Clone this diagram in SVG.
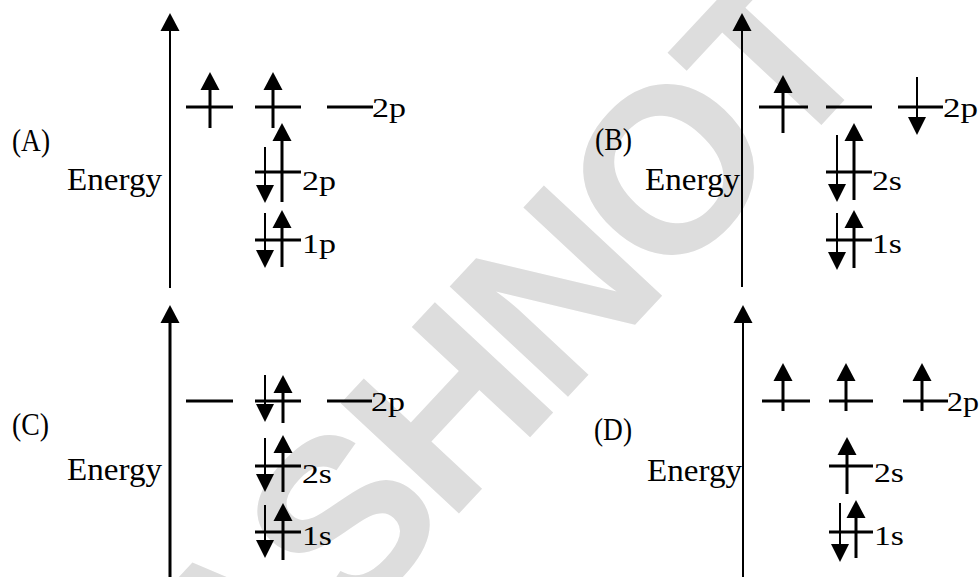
<svg xmlns="http://www.w3.org/2000/svg" xmlns:xlink="http://www.w3.org/1999/xlink" width="979" height="577" viewBox="0 0 979 577">
<style>
.lvl{stroke:#000;stroke-width:3;fill:none}
.stem{stroke:#000;stroke-width:3}
.stemT{stroke:#000;stroke-width:2}
.axis{stroke:#000;stroke-width:2}
.txt{font-family:"Liberation Serif","Times New Roman",serif;fill:#000}
.big{font-size:32px}
.lab{font-size:27px}
.wm{font-family:"Liberation Sans",Arial,sans-serif;font-weight:bold;font-size:235px;letter-spacing:-10px;fill:#dddddd}
</style>
<defs>
<path id="hu" d="M0,0 L9.5,18 L-9.5,18 Z" fill="#000"/>
<path id="hd" d="M0,0 L9,-18 L-9,-18 Z" fill="#000"/>
</defs>
<rect width="979" height="577" fill="#fff"/>
<text class="wm" transform="translate(340,515) rotate(-47)" x="-240" y="86">ASHNOT</text>

<g id="panel-A">
<line class="axis" x1="170" y1="288" x2="170" y2="28"/><use xlink:href="#hu" x="170" y="13"/>
<text class="txt big" x="12" y="151" textLength="38" lengthAdjust="spacingAndGlyphs">(A)</text>
<text class="txt big" x="67" y="190" textLength="95" lengthAdjust="spacingAndGlyphs">Energy</text>
<g id="A-2p-top">
<line class="lvl" x1="186" y1="107" x2="233" y2="107"/><line class="lvl" x1="255" y1="107" x2="301" y2="107"/><line class="lvl" x1="327" y1="107" x2="373" y2="107"/>
<line class="stem" x1="210" y1="128" x2="210" y2="85"/><use xlink:href="#hu" x="210" y="72"/>
<line class="stem" x1="273" y1="128" x2="273" y2="85"/><use xlink:href="#hu" x="273" y="72"/>
<text class="txt lab" x="372" y="117" textLength="34" lengthAdjust="spacingAndGlyphs">2p</text>
</g>
<g id="A-2p">
<line class="lvl" x1="255" y1="172" x2="301" y2="172"/>
<line class="stemT" x1="265" y1="147" x2="265" y2="190"/><use xlink:href="#hd" x="265" y="203"/>
<line class="stem" x1="282" y1="202" x2="282" y2="136"/><use xlink:href="#hu" x="282" y="123"/>
<text class="txt lab" x="302" y="190" textLength="34" lengthAdjust="spacingAndGlyphs">2p</text>
</g>
<g id="A-1p">
<line class="lvl" x1="255" y1="240" x2="301" y2="240"/>
<line class="stemT" x1="265" y1="213" x2="265" y2="255"/><use xlink:href="#hd" x="265" y="268"/>
<line class="stem" x1="282" y1="267" x2="282" y2="223"/><use xlink:href="#hu" x="282" y="210"/>
<text class="txt lab" x="302" y="253" textLength="34" lengthAdjust="spacingAndGlyphs">1p</text>
</g>
</g>

<g id="panel-B">
<line class="axis" x1="742" y1="287" x2="742" y2="28"/><use xlink:href="#hu" x="742" y="13"/>
<text class="txt big" x="595" y="150" textLength="37" lengthAdjust="spacingAndGlyphs">(B)</text>
<text class="txt big" x="645" y="190" textLength="95" lengthAdjust="spacingAndGlyphs">Energy</text>
<g id="B-2p">
<line class="lvl" x1="759" y1="107" x2="808" y2="107"/><line class="lvl" x1="826" y1="107" x2="872" y2="107"/><line class="lvl" x1="898" y1="107" x2="943" y2="107"/>
<line class="stem" x1="783" y1="133" x2="783" y2="88"/><use xlink:href="#hu" x="783" y="75"/>
<line class="stemT" x1="917" y1="77" x2="917" y2="122"/><use xlink:href="#hd" x="917" y="135"/>
<text class="txt lab" x="943" y="117" textLength="35" lengthAdjust="spacingAndGlyphs">2p</text>
</g>
<g id="B-2s">
<line class="lvl" x1="826" y1="172" x2="872" y2="172"/>
<line class="stemT" x1="837" y1="135" x2="837" y2="189"/><use xlink:href="#hd" x="837" y="202"/>
<line class="stem" x1="854" y1="200" x2="854" y2="136"/><use xlink:href="#hu" x="854" y="123"/>
<text class="txt lab" x="872" y="190" textLength="30" lengthAdjust="spacingAndGlyphs">2s</text>
</g>
<g id="B-1s">
<line class="lvl" x1="826" y1="240" x2="872" y2="240"/>
<line class="stemT" x1="837" y1="213" x2="837" y2="257"/><use xlink:href="#hd" x="837" y="270"/>
<line class="stem" x1="854" y1="268" x2="854" y2="223"/><use xlink:href="#hu" x="854" y="210"/>
<text class="txt lab" x="872" y="253" textLength="30" lengthAdjust="spacingAndGlyphs">1s</text>
</g>
</g>

<g id="panel-C">
<line x1="170" y1="577" x2="170" y2="320" stroke="#000" stroke-width="3"/><use xlink:href="#hu" x="170" y="305"/>
<text class="txt big" x="12" y="435" textLength="37" lengthAdjust="spacingAndGlyphs">(C)</text>
<text class="txt big" x="67" y="480" textLength="95" lengthAdjust="spacingAndGlyphs">Energy</text>
<g id="C-2p">
<line class="lvl" x1="186" y1="401" x2="233" y2="401"/><line class="lvl" x1="255" y1="401" x2="301" y2="401"/><line class="lvl" x1="327" y1="401" x2="372" y2="401"/>
<line class="stemT" x1="265" y1="375" x2="265" y2="409"/><use xlink:href="#hd" x="265" y="422"/>
<line class="stem" x1="283" y1="423" x2="283" y2="388"/><use xlink:href="#hu" x="283" y="375"/>
<text class="txt lab" x="371" y="411" textLength="34" lengthAdjust="spacingAndGlyphs">2p</text>
</g>
<g id="C-2s">
<line class="lvl" x1="255" y1="466" x2="301" y2="466"/>
<line class="stemT" x1="265" y1="438" x2="265" y2="479"/><use xlink:href="#hd" x="265" y="492"/>
<line class="stem" x1="283" y1="492" x2="283" y2="448"/><use xlink:href="#hu" x="283" y="435"/>
<text class="txt lab" x="302" y="483" textLength="30" lengthAdjust="spacingAndGlyphs">2s</text>
</g>
<g id="C-1s">
<line class="lvl" x1="255" y1="532" x2="301" y2="532"/>
<line class="stemT" x1="265" y1="505" x2="265" y2="545"/><use xlink:href="#hd" x="265" y="558"/>
<line class="stem" x1="283" y1="560" x2="283" y2="516"/><use xlink:href="#hu" x="283" y="503"/>
<text class="txt lab" x="302" y="545" textLength="30" lengthAdjust="spacingAndGlyphs">1s</text>
</g>
</g>

<g id="panel-D">
<line class="axis" x1="743" y1="577" x2="743" y2="320"/><use xlink:href="#hu" x="743" y="305"/>
<text class="txt big" x="594" y="440" textLength="38" lengthAdjust="spacingAndGlyphs">(D)</text>
<text class="txt big" x="647" y="481" textLength="95" lengthAdjust="spacingAndGlyphs">Energy</text>
<g id="D-2p">
<line class="lvl" x1="762" y1="401" x2="810" y2="401"/><line class="lvl" x1="829" y1="401" x2="873" y2="401"/><line class="lvl" x1="903" y1="401" x2="948" y2="401"/>
<line class="stem" x1="783" y1="411" x2="783" y2="376"/><use xlink:href="#hu" x="783" y="363"/>
<line class="stem" x1="846" y1="411" x2="846" y2="376"/><use xlink:href="#hu" x="846" y="363"/>
<line class="stem" x1="922" y1="411" x2="922" y2="376"/><use xlink:href="#hu" x="922" y="363"/>
<text class="txt lab" x="947" y="411" textLength="32" lengthAdjust="spacingAndGlyphs">2p</text>
</g>
<g id="D-2s">
<line class="lvl" x1="829" y1="466" x2="873" y2="466"/>
<line class="stem" x1="847" y1="494" x2="847" y2="450"/><use xlink:href="#hu" x="847" y="437"/>
<text class="txt lab" x="874" y="482" textLength="30" lengthAdjust="spacingAndGlyphs">2s</text>
</g>
<g id="D-1s">
<line class="lvl" x1="829" y1="532" x2="873" y2="532"/>
<line class="stemT" x1="840" y1="503" x2="840" y2="549"/><use xlink:href="#hd" x="840" y="562"/>
<line class="stem" x1="856" y1="558" x2="856" y2="513"/><use xlink:href="#hu" x="856" y="500"/>
<text class="txt lab" x="874" y="545" textLength="30" lengthAdjust="spacingAndGlyphs">1s</text>
</g>
</g>
</svg>
